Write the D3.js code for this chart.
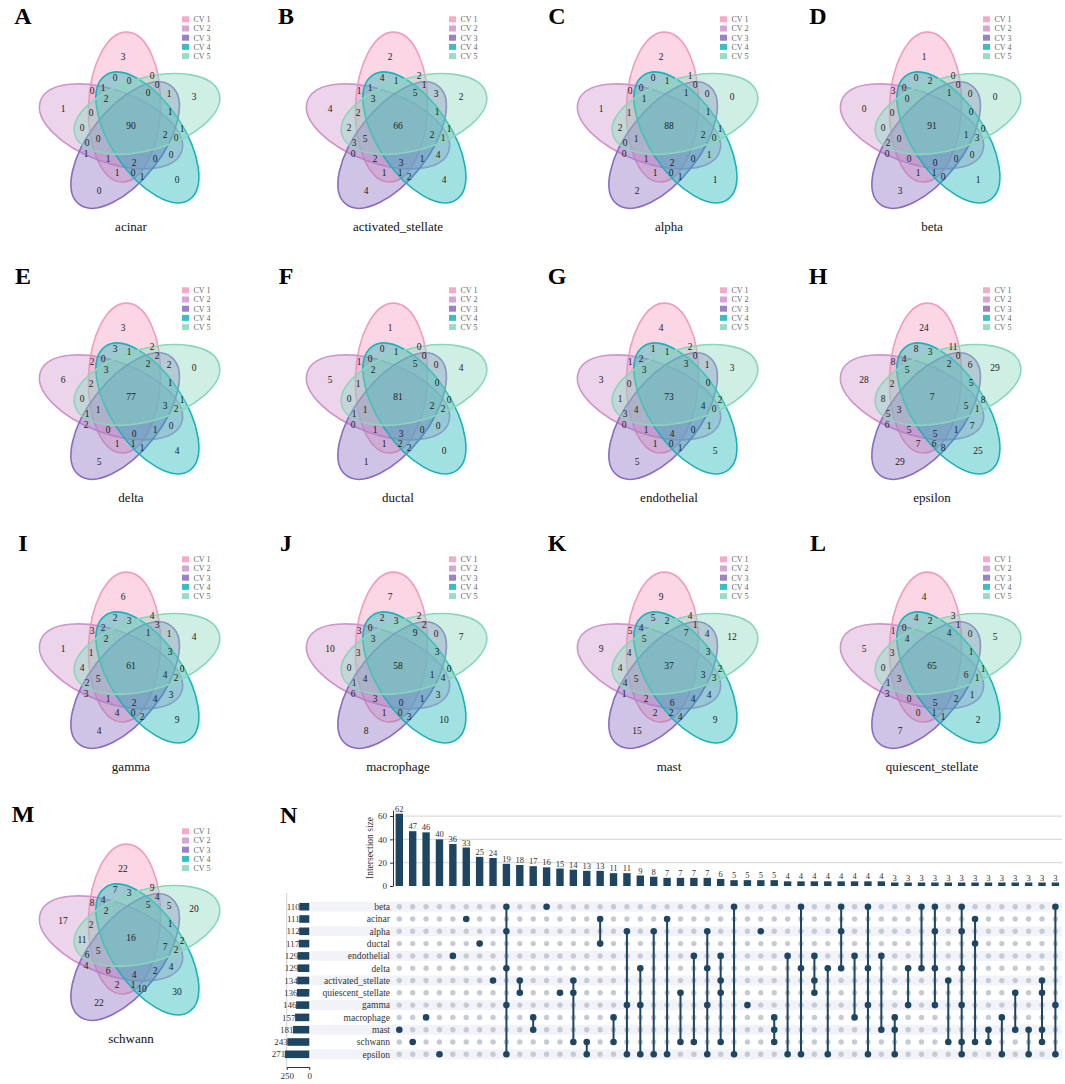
<!DOCTYPE html>
<html>
<head>
<meta charset="utf-8">
<script src="https://cdn.jsdelivr.net/npm/d3@7/dist/d3.min.js"></script>
<style>
body { margin: 0; background: #fff; }
svg, text { font-family: "Liberation Serif", "Times New Roman", serif; }
</style>
</head>
<body>
<div id="chart-area"></div>
<script>
// ---------- data ----------
var cellTypes = ["acinar", "activated_stellate", "alpha", "beta", "delta", "ductal", "endothelial",
    "epsilon", "gamma", "macrophage", "mast", "quiescent_stellate", "schwann"];
var panelLetters = ["A", "B", "C", "D", "E", "F", "G", "H", "I", "J", "K", "L", "M"];
var cvNames = ["CV 1", "CV 2", "CV 3", "CV 4", "CV 5"];
var cvColors = ["#f59bbd", "#cf95cb", "#8a6bc0", "#17b3b7", "#8ad6bc"];

// region counts, listed in the order of regionAnchors
var acinar      = [3,1,3,0,0, 0,0,0,1,0, 0,2,0,1,0, 1,0,90,1,2, 0,0,0,1,0, 1,2,0,1,0, 1];
var activated   = [2,4,2,4,4, 4,2,1,1,1, 1,3,5,3,2, 1,2,66,1,2, 1,3,5,0,4, 2,3,1,1,1, 2];
var alpha       = [2,1,0,2,1, 0,1,0,0,1, 0,1,1,0,1, 1,2,88,1,2, 0,0,1,0,1, 1,2,0,1,0, 1];
var beta        = [1,0,0,3,1, 0,0,3,0,2, 0,0,1,0,0, 0,0,91,0,1, 3,2,0,0,0, 0,0,0,1,1, 0];
var delta       = [3,6,0,5,4, 3,2,2,0,1, 2,3,2,2,2, 1,0,77,1,3, 2,1,1,2,0, 0,0,1,1,1, 1];
var ductal      = [1,5,4,1,0, 0,0,1,0,1, 0,2,5,0,1, 0,0,81,0,2, 2,1,1,0,0, 1,3,0,1,2, 2];
var endothelial = [4,3,3,5,5, 1,2,1,2,1, 0,3,3,1,0, 0,1,73,2,4, 0,3,4,0,1, 1,4,0,1,0, 1];
var epsilon     = [24,28,29,29,25, 8,11,8,4,3, 0,5,2,6,2, 5,8,7,8,5, 1,5,3,6,7, 5,5,1,7,6, 8];
var gamma       = [6,1,4,4,9, 2,4,3,2,3, 3,2,1,1,1, 3,4,61,0,4, 2,2,5,3,3, 1,2,4,4,0, 2];
var macrophage  = [7,10,7,8,10, 2,2,3,0,3, 2,3,9,0,3, 3,0,58,0,1, 4,1,4,6,3, 3,0,1,1,0, 3];
var mast        = [9,9,12,15,9, 5,4,5,4,2, 1,5,7,4,4, 3,4,37,2,3, 3,4,5,1,4, 2,6,4,2,2, 4];
var quiescent   = [4,5,5,7,2, 4,3,1,0,2, 1,4,4,0,3, 1,0,65,1,6, 1,1,3,3,1, 0,5,2,0,1, 1];
var schwann     = [22,17,20,22,30, 7,9,8,4,3, 4,2,5,5,2, 1,11,16,2,7, 2,6,5,4,4, 6,4,2,2,1, 10];
var vennCounts = [acinar, activated, alpha, beta, delta, ductal, endothelial,
    epsilon, gamma, macrophage, mast, quiescent, schwann];

// UpSet panel
var setNames = ["beta", "acinar", "alpha", "ductal", "endothelial", "delta", "activated_stellate",
    "quiescent_stellate", "gamma", "macrophage", "mast", "schwann", "epsilon"];
var setSizes = [110, 111, 112, 117, 129, 129, 134, 136, 146, 157, 181, 243, 271];
var intersectionSizes = [62, 47, 46, 40, 36, 33, 25, 24, 19, 18, 17, 16, 15, 14, 13, 13, 11, 11, 9, 8,
    7, 7, 7, 7, 6, 5, 5, 5, 5, 4, 4, 4, 4, 4, 4, 4, 4, 3, 3, 3, 3, 3, 3, 3, 3, 3, 3, 3, 3, 3];
var intersectionSets = [
    ["mast"], ["schwann"], ["macrophage"], ["epsilon"], ["endothelial"], ["acinar"], ["ductal"],
    ["activated_stellate"], ["beta", "alpha", "delta", "gamma", "epsilon"],
    ["activated_stellate", "quiescent_stellate"], ["macrophage", "mast"], ["beta"], ["quiescent_stellate"],
    ["activated_stellate", "quiescent_stellate", "schwann"], ["schwann", "epsilon"], ["acinar", "ductal"],
    ["macrophage", "schwann"], ["alpha", "gamma", "epsilon"], ["delta", "gamma", "epsilon"],
    ["alpha", "epsilon"], ["acinar", "epsilon"], ["quiescent_stellate", "schwann"],
    ["endothelial", "schwann"], ["alpha", "delta", "gamma", "epsilon"],
    ["endothelial", "activated_stellate", "quiescent_stellate", "schwann"], ["beta", "epsilon"],
    ["gamma"], ["alpha"], ["macrophage", "mast", "schwann"], ["endothelial", "epsilon"],
    ["beta", "delta", "epsilon"], ["endothelial", "activated_stellate", "quiescent_stellate"],
    ["delta", "epsilon"], ["beta", "alpha", "delta"], ["endothelial", "macrophage"],
    ["beta", "delta", "gamma", "epsilon"], ["endothelial", "mast"], ["macrophage", "mast", "epsilon"],
    ["delta", "gamma"], ["beta", "delta"], ["beta", "alpha", "delta", "gamma"],
    ["activated_stellate", "schwann"], ["beta", "alpha", "delta", "gamma", "schwann", "epsilon"],
    ["acinar", "ductal", "schwann"], ["mast", "schwann"], ["macrophage", "epsilon"],
    ["quiescent_stellate", "mast"], ["mast", "epsilon"],
    ["activated_stellate", "quiescent_stellate", "mast", "schwann"], ["beta", "gamma", "epsilon"]
];
var barTicks = [0, 20, 40, 60];

// ---------- layout ----------
var width = 1065, height = 1084;
var colX = [131, 398, 669, 932];
var rowY = [126, 397, 666, 938];
var letterX = [23, 286, 557, 818];
var letterY = [24, 284, 551, 822];

// five-ellipse venn geometry (px, relative to venn centre)
var ellA = 75, ellB = 36, ellOff = 20;
var clockPos = [0, 4, 3, 2, 1];   // CV1 top, then CV5, CV4, CV3, CV2 clockwise
// label anchor of each region (px, relative to venn centre)
var regionAnchors = [[-8,-69],[-68,-17],[63,-29],[-32,65],[46,54],
    [-16,-48],[21,-50],[-39,-35],[-28,-38],[-2,-45],[26,-41],[-25,-27],[17,-33],[38,-32],
    [-40,-13],[39,-14],[-49,2],[0,0],[51,3],[34,9],[45,12],[-44,17],[-33,13],[-45,28],
    [40,29],[-23,33],[3,37],[24,33],[-14,47],[2,47],[11,51]];

var ellipses = cvNames.map(function(n, i) {
    var k = clockPos[i];
    var a0 = (-109 + 72 * k) * Math.PI / 180;
    return {name: n, color: cvColors[i], cx: ellOff * Math.cos(a0), cy: ellOff * Math.sin(a0), rot: 92 + 72 * k};
});

function insideEllipse(e, p) {
    var t = -e.rot * Math.PI / 180;
    var dx = p[0] - e.cx, dy = p[1] - e.cy;
    var u = dx * Math.cos(t) - dy * Math.sin(t);
    var v = dx * Math.sin(t) + dy * Math.cos(t);
    return (u * u) / (ellA * ellA) + (v * v) / (ellB * ellB) <= 1;
}
var regionKeys = regionAnchors.map(function(p) {
    return ellipses.filter(function(e) { return insideEllipse(e, p); })
        .map(function(e) { return e.name; }).join(" & ");
});

var svg = d3.select("#chart-area").append("svg")
    .attr("width", width).attr("height", height)
    .style("font-family", "'Liberation Serif', 'Times New Roman', serif");

// ---------- venn panels ----------
cellTypes.forEach(function(ct, p) {
    var col = p % 4, row = Math.floor(p / 4);
    var cx = colX[col], cy = rowY[row];
    var sx = d3.scaleLinear().domain([0, 1]).range([cx, cx + 1]);
    var sy = d3.scaleLinear().domain([0, 1]).range([cy, cy + 1]);

    svg.append("text")
        .attr("x", letterX[col]).attr("y", letterY[row])
        .attr("text-anchor", "middle")
        .attr("font-size", "24px").attr("font-weight", "bold")
        .attr("fill", "#000")
        .text(panelLetters[p]);

    var g = svg.append("g");
    g.selectAll("ellipse").data(ellipses).enter().append("ellipse")
        .attr("cx", function(d) { return sx(d.cx); })
        .attr("cy", function(d) { return sy(d.cy); })
        .attr("rx", ellA).attr("ry", ellB)
        .attr("transform", function(d) { return "rotate(" + d.rot + "," + sx(d.cx) + "," + sy(d.cy) + ")"; })
        .attr("fill", function(d) { return d.color; })
        .attr("fill-opacity", 0.4)
        .attr("stroke", function(d) { return d.color; })
        .attr("stroke-width", 1.6);

    g.selectAll("text.count").data(vennCounts[p]).enter().append("text")
        .attr("class", "count")
        .attr("x", function(d, i) { return sx(regionAnchors[i][0]); })
        .attr("y", function(d, i) { return sy(regionAnchors[i][1]); })
        .attr("dy", "0.35em")
        .attr("text-anchor", "middle")
        .attr("font-size", "9.5px")
        .attr("fill", "#222")
        .text(function(d) { return d; })
        .append("title").text(function(d, i) { return regionKeys[i]; });

    var leg = g.selectAll("g.leg").data(ellipses).enter().append("g")
        .attr("transform", function(d, i) { return "translate(" + sx(51) + "," + sy(-106.7 + 9.2 * i) + ")"; });
    leg.append("rect")
        .attr("x", 0).attr("y", -3).attr("width", 7).attr("height", 6)
        .attr("fill", function(d) { return d.color; }).attr("fill-opacity", 0.85);
    leg.append("text")
        .attr("x", 11.5).attr("y", 0).attr("dy", "0.35em")
        .attr("font-size", "8px").attr("fill", "#666")
        .text(function(d) { return d.name; });

    g.append("text")
        .attr("x", sx(0)).attr("y", sy(105))
        .attr("text-anchor", "middle")
        .attr("font-size", "13px").attr("fill", "#111")
        .text(ct);
});

// ---------- UpSet panel ----------
var navy = "#1e4562";
svg.append("text")
    .attr("x", 280).attr("y", 823)
    .attr("font-size", "24px").attr("font-weight", "bold")
    .text("N");

var xCol = d3.scalePoint().domain(d3.range(intersectionSizes.length)).range([399.3, 1055.4]);
var yBar = d3.scaleLinear().domain([0, 65]).range([886, 810.2]);
var yRow = d3.scalePoint().domain(setNames).range([906.7, 1054.3]);
var xSet = d3.scaleLinear().domain([0, 250]).range([309.3, 286.7]);
var barW = 7.4;
var rowStep = yRow.step();

// bar grid
svg.append("g").selectAll("line").data(barTicks.slice(1)).enter().append("line")
    .attr("x1", 393).attr("x2", 1062)
    .attr("y1", function(d) { return yBar(d); }).attr("y2", function(d) { return yBar(d); })
    .attr("stroke", "#dcdcdc").attr("stroke-width", 1.2);

svg.append("g").selectAll("rect").data(intersectionSizes).enter().append("rect")
    .attr("x", function(d, i) { return xCol(i) - barW / 2; })
    .attr("y", function(d) { return yBar(d); })
    .attr("width", barW)
    .attr("height", function(d) { return yBar(0) - yBar(d); })
    .attr("fill", navy);

svg.append("g").selectAll("text").data(intersectionSizes).enter().append("text")
    .attr("x", function(d, i) { return xCol(i); })
    .attr("y", function(d) { return yBar(d) - 2; })
    .attr("text-anchor", "middle")
    .attr("font-size", "8.5px").attr("fill", "#333")
    .text(function(d) { return d; });

var yAxis = svg.append("g")
    .attr("transform", "translate(393,0)")
    .call(d3.axisLeft(yBar).tickValues(barTicks).tickSize(3).tickSizeOuter(0));
yAxis.selectAll("text").attr("font-size", "9px").attr("font-family", "Liberation Serif, serif").attr("fill", "#333");
yAxis.selectAll("path, line").attr("stroke", "#333");

svg.append("text")
    .attr("transform", "translate(373,848) rotate(-90)")
    .attr("text-anchor", "middle")
    .attr("font-size", "9.5px").attr("fill", "#333")
    .text("Intersection size");

// matrix stripes
svg.append("g").selectAll("rect").data(setNames.filter(function(d, i) { return i % 2 === 0; }))
    .enter().append("rect")
    .attr("x", 311).attr("width", 751)
    .attr("y", function(d) { return yRow(d) - rowStep * 0.4; })
    .attr("height", rowStep * 0.8)
    .attr("fill", "#f1f3f8");

// set size bars
svg.append("line")
    .attr("x1", xSet(250)).attr("x2", xSet(250))
    .attr("y1", 893).attr("y2", 1067)
    .attr("stroke", "#cfcfcf");
svg.append("g").selectAll("rect").data(setSizes).enter().append("rect")
    .attr("x", function(d) { return xSet(d); })
    .attr("y", function(d, i) { return yRow(setNames[i]) - 3.8; })
    .attr("width", function(d) { return xSet(0) - xSet(d); })
    .attr("height", 7.6)
    .attr("fill", navy);
svg.append("g").selectAll("text").data(setSizes).enter().append("text")
    .attr("x", function(d) { return xSet(d) + 0.5; })
    .attr("y", function(d, i) { return yRow(setNames[i]); })
    .attr("dy", "0.35em")
    .attr("text-anchor", "end")
    .attr("font-size", "9px").attr("fill", "#333")
    .text(function(d) { return d; });
var xAxis = svg.append("g")
    .attr("transform", "translate(0,1067)")
    .call(d3.axisBottom(xSet).tickValues([250, 0]).tickSize(3).tickSizeOuter(0));
xAxis.selectAll("text").attr("font-size", "9px").attr("font-family", "Liberation Serif, serif").attr("fill", "#333");
xAxis.selectAll("path, line").attr("stroke", "#333");

// row labels
svg.append("g").selectAll("text").data(setNames).enter().append("text")
    .attr("x", 390)
    .attr("y", function(d) { return yRow(d); })
    .attr("dy", "0.35em")
    .attr("text-anchor", "end")
    .attr("font-size", "9.5px").attr("fill", "#333")
    .text(function(d) { return d; });

// dots and connectors
var cols = svg.append("g").selectAll("g").data(intersectionSets).enter().append("g");
cols.each(function(sets, i) {
    var gc = d3.select(this);
    gc.selectAll("circle.bg").data(setNames).enter().append("circle")
        .attr("cx", xCol(i))
        .attr("cy", function(d) { return yRow(d); })
        .attr("r", 2.7)
        .attr("fill", "#c5cbd4");
    var ys = sets.map(function(s) { return yRow(s); });
    if (ys.length > 1) {
        gc.append("line")
            .attr("x1", xCol(i)).attr("x2", xCol(i))
            .attr("y1", d3.min(ys)).attr("y2", d3.max(ys))
            .attr("stroke", navy).attr("stroke-width", 2);
    }
    gc.selectAll("circle.on").data(sets).enter().append("circle")
        .attr("cx", xCol(i))
        .attr("cy", function(d) { return yRow(d); })
        .attr("r", 3.3)
        .attr("fill", navy);
});
</script>
</body>
</html>
